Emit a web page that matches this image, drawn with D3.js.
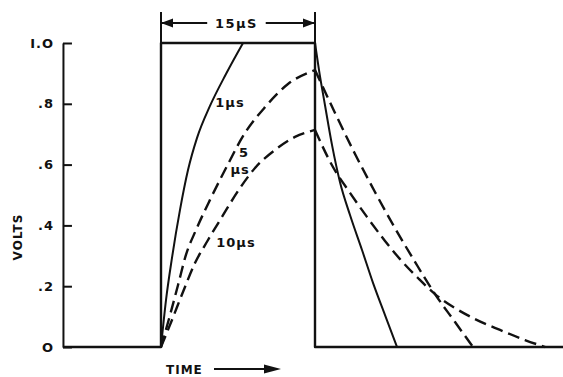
<!doctype html>
<html>
<head>
	<script src="https://d3js.org/d3.v7.min.js"></script>
	<style>
		body { margin: 0; background: #fff; }
		svg text { font-family: "DejaVu Sans", "Liberation Sans", sans-serif; font-weight: bold; fill: #111; }
	</style>
</head>
<body>
	<div id="viz">
		<svg width="563" height="377"></svg>
	</div>
	<script>
		// time in microseconds, value in volts
		var pulseT = [-9.55, 0, 0, 15, 15, 39.2];
		var pulseV = [0, 0, 1, 1, 0, 0];

		var rise1 = [[0, 0], [0.49, 0.155], [1.07, 0.293], [1.85, 0.451], [2.63, 0.582], [3.51, 0.688],
			[4.77, 0.793], [6.33, 0.898], [7.99, 1.0]];
		var decay1 = [[15, 1.0], [15.39, 0.911], [15.97, 0.796], [16.66, 0.664], [17.43, 0.543], [18.41, 0.434],
			[19.58, 0.319], [20.65, 0.211], [21.82, 0.105], [22.99, 0]];

		var rise5 = [[0, 0], [0.88, 0.105], [1.66, 0.204], [2.43, 0.303], [3.41, 0.385], [4.77, 0.484],
			[6.23, 0.582], [8.18, 0.704], [10.13, 0.789], [12.37, 0.865], [15, 0.911]];
		var decay5 = [[15, 0.911], [16.95, 0.770], [18.90, 0.635], [20.84, 0.510], [22.79, 0.391],
			[24.74, 0.280], [26.69, 0.174], [28.64, 0.082], [30.39, 0]];

		var rise10 = [[0, 0], [1.07, 0.089], [2.14, 0.181], [3.31, 0.276], [4.58, 0.352], [5.94, 0.428],
			[7.50, 0.513], [9.16, 0.589], [11.10, 0.648], [13.05, 0.691], [15, 0.714]];
		var decay10 = [[15, 0.714], [16.75, 0.592], [18.41, 0.507], [20.06, 0.428], [21.82, 0.349],
			[23.28, 0.289], [25.03, 0.227], [26.69, 0.174], [28.64, 0.128], [30.58, 0.092],
			[33.02, 0.056], [35.45, 0.023], [37.40, 0]];

		var yTicks = [0, 0.2, 0.4, 0.6, 0.8, 1.0];
		var yTickLabels = ["O", ".2", ".4", ".6", ".8", "I.O"];
		var pulseWidthLabel = "15µS";
		var curveLabels = ["1µs", "5", "µs", "10µs"];

		dataViz();

		function dataViz() {
			var svg = d3.select("svg");

			var xScale = d3.scaleLinear().domain([0, 15]).range([161, 315]);
			var yScale = d3.scaleLinear().domain([0, 1]).range([347, 43]);

			var line = d3.line()
				.x(d => xScale(d[0]))
				.y(d => yScale(d[1]))
				.curve(d3.curveMonotoneX);

			// the applied pulse
			svg.append("path")
				.datum(d3.zip(pulseT, pulseV))
				.attr("d", d3.line().x(d => xScale(d[0])).y(d => yScale(d[1])))
				.attr("fill", "none")
				.attr("stroke", "#111")
				.attr("stroke-width", 2.4)
				.attr("stroke-linejoin", "round");

			// response curves
			var solid = [rise1, decay1];
			var dashed = [rise5, decay5, rise10, decay10];

			svg.selectAll("path.solid")
				.data(solid)
				.enter()
				.append("path")
					.attr("class", "solid")
					.attr("d", line)
					.attr("fill", "none")
					.attr("stroke", "#111")
					.attr("stroke-width", 2);

			svg.selectAll("path.dashed")
				.data(dashed)
				.enter()
				.append("path")
					.attr("class", "dashed")
					.attr("d", line)
					.attr("fill", "none")
					.attr("stroke", "#111")
					.attr("stroke-width", 2.4)
					.attr("stroke-dasharray", "12,6");

			// y axis
			var yAxis = d3.axisLeft(yScale)
				.tickValues(yTicks)
				.tickFormat((d, i) => yTickLabels[i])
				.tickSizeInner(-9)
				.tickSizeOuter(0)
				.tickPadding(9);

			var yAxisG = svg.append("g")
				.attr("id", "yAxisG")
				.attr("transform", "translate(" + xScale(-9.55) + ",0)")
				.call(yAxis);
			yAxisG.selectAll("path, line").attr("stroke", "#111").attr("stroke-width", 2);
			yAxisG.selectAll("text")
				.style("font-family", "'DejaVu Sans', sans-serif")
				.style("font-weight", "bold")
				.style("font-size", "13px")
				.style("letter-spacing", "1px")
				.attr("fill", "#111");

			svg.append("text")
				.attr("transform", "translate(22,237) rotate(-90)")
				.attr("text-anchor", "middle")
				.style("font-size", "12px")
				.style("letter-spacing", "1px")
				.text("VOLTS");

			// time label with arrow
			svg.append("text")
				.attr("x", 166)
				.attr("y", 374)
				.style("font-size", "12px")
				.style("letter-spacing", "1px")
				.text("TIME");
			svg.append("line")
				.attr("x1", 214).attr("x2", 268)
				.attr("y1", 369).attr("y2", 369)
				.attr("stroke", "#111").attr("stroke-width", 2);
			svg.append("path")
				.attr("d", "M264,364.5 L281,369 L264,373.5 Z")
				.attr("fill", "#111");

			// pulse width dimension
			var dimY = 23;
			[0, 15].forEach(function (t) {
				svg.append("line")
					.attr("x1", xScale(t)).attr("x2", xScale(t))
					.attr("y1", 12).attr("y2", yScale(1))
					.attr("stroke", "#111").attr("stroke-width", 2);
			});
			svg.append("line")
				.attr("x1", xScale(0)).attr("x2", xScale(4.5))
				.attr("y1", dimY).attr("y2", dimY)
				.attr("stroke", "#111").attr("stroke-width", 2);
			svg.append("line")
				.attr("x1", xScale(10.2)).attr("x2", xScale(15))
				.attr("y1", dimY).attr("y2", dimY)
				.attr("stroke", "#111").attr("stroke-width", 2);
			svg.append("path")
				.attr("d", "M" + xScale(0) + "," + dimY + " l12,-4.5 l0,9 Z")
				.attr("fill", "#111");
			svg.append("path")
				.attr("d", "M" + xScale(15) + "," + dimY + " l-12,-4.5 l0,9 Z")
				.attr("fill", "#111");
			svg.append("text")
				.attr("x", xScale(7.35))
				.attr("y", dimY + 5)
				.attr("text-anchor", "middle")
				.style("font-size", "13px")
				.style("letter-spacing", "1.5px")
				.text(pulseWidthLabel);

			// curve labels
			var labelPos = [[6.72, 0.789], [8.08, 0.625], [7.7, 0.569], [7.3, 0.329]];
			svg.selectAll("text.curveLabel")
				.data(curveLabels)
				.enter()
				.append("text")
					.attr("class", "curveLabel")
					.attr("x", (d, i) => xScale(labelPos[i][0]))
					.attr("y", (d, i) => yScale(labelPos[i][1]))
					.attr("text-anchor", "middle")
					.style("font-size", "13px")
					.style("letter-spacing", "1px")
					.text(d => d);
		}
	</script>
</body>
</html>
